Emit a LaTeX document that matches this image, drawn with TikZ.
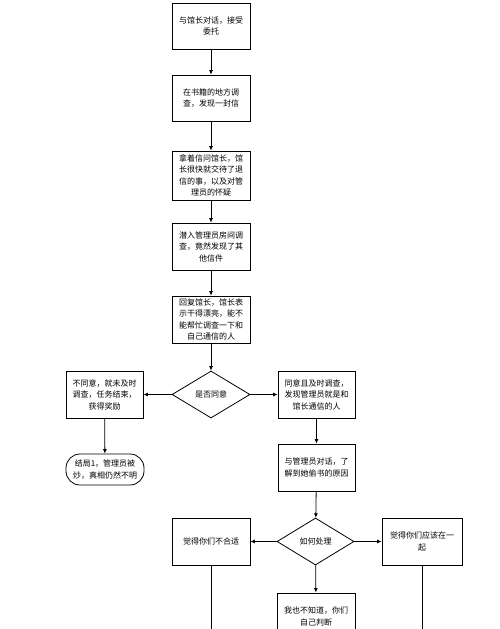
\documentclass[tikz,border=0pt]{standalone}
\usepackage{fontspec}
\setmainfont{Noto Sans CJK SC}
\usetikzlibrary{shapes.geometric,arrows.meta}
\begin{document}
\begin{tikzpicture}[x=1pt,y=-1pt,
  every node/.style={font=\fontsize{8pt}{11.5pt}\selectfont, align=center, inner sep=0pt},
  box/.style={draw, line width=0.8pt, rectangle, minimum width=78pt, minimum height=47pt},
  term/.style={draw, line width=0.8pt, rectangle, rounded corners=14pt, minimum width=78pt, minimum height=31pt},
  dec/.style={draw, line width=0.8pt, diamond, minimum width=78pt, minimum height=47pt},
  arr/.style={line width=0.8pt, -{Latex[length=4.5pt,width=4pt]}},
  ln/.style={line width=0.8pt}]
\clip (0,0) rectangle (500,629);
\fill[white] (0,0) rectangle (500,629);
\node[box, minimum height=46pt] (b1) at (211,26) {与馆长对话，接受\\委托};
\node[box, minimum height=46pt] (b2) at (211,98) {在书籍的地方调\\查，发现一封信};
\node[box, minimum height=49pt] (b3) at (211,175.5) {拿着信问馆长，馆\\长很快就交待了退\\信的事，以及对管\\理员的怀疑};
\node[box] (b4) at (211,246.5) {潜入管理员房间调\\查，竟然发现了其\\他信件};
\node[box] (b5) at (211,319.5) {回复馆长，馆长表\\示干得漂亮，能不\\能帮忙调查一下和\\自己通信的人};
\node[dec] (d1) at (211,394.5) {是否同意};
\node[box, minimum width=77pt] (l1) at (104.5,394.5) {不同意，就未及时\\调查，任务结束，\\获得奖励};
\node[box, minimum width=77pt] (r1) at (316.5,394.5) {同意且及时调查，\\发现管理员就是和\\馆长通信的人};
\node[term] (t1) at (105,469.5) {结局1，管理员被\\炒，真相仍然不明};
\node[box, minimum width=77pt] (r2) at (316.5,467.5) {与管理员对话，了\\解到她偷书的原因};
\node[dec, minimum width=77pt] (d2) at (315.5,541.5) {如何处理};
\node[box] (l3) at (211,541.5) {觉得你们不合适};
\node[box, minimum width=80pt] (r3) at (422,541.5) {觉得你们应该在一\\起};
\node[box] (b6) at (316,616.5) {我也不知道，你们\\自己判断};
\coordinate (l3end) at (211,640);
\coordinate (r3end) at (422,640);
\draw[arr] (b1) -- (b2);
\draw[arr] (b2) -- (b3);
\draw[arr] (b3) -- (b4);
\draw[arr] (b4) -- (b5);
\draw[arr] (b5) -- (d1);
\draw[arr] (d1) -- (l1);
\draw[arr] (d1) -- (r1);
\draw[arr] (l1) -- (t1);
\draw[arr] (r1) -- (r2);
\draw[arr] (r2) -- (d2);
\draw[arr] (d2) -- (l3);
\draw[arr] (d2) -- (r3);
\draw[arr] (d2) -- (b6);
\draw[ln] (l3) -- (l3end);
\draw[ln] (r3) -- (r3end);
\end{tikzpicture}
\end{document}
